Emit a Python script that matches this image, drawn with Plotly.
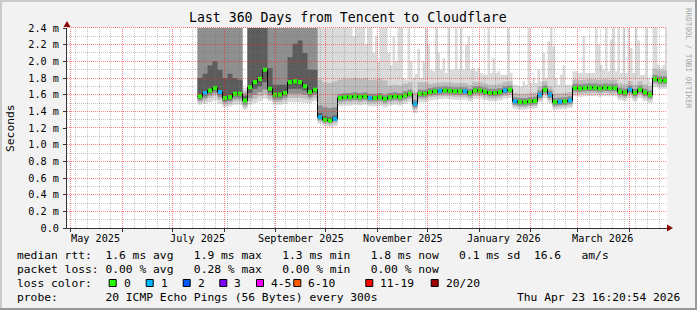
import math
import pandas as pd
import plotly.graph_objects as go

# ---------------- data ----------------
range_start = "2025-04-28 16:20:54"
range_end = "2026-04-23 16:20:54"
series_start = "2025-07-16"
step_days = 3          # step of the median / inner smoke series
fine_step_hours = 36   # step of the outer (max ping) smoke series

# median RTT (ms), one value per 3-day step
median_ms = [
    1.58, 1.62, 1.65, 1.68, 1.63, 1.56, 1.57, 1.61, 1.61, 1.53,
    1.69, 1.75, 1.79, 1.90, 1.67, 1.60, 1.60, 1.62, 1.75, 1.76,
    1.75, 1.70, 1.63, 1.66, 1.33, 1.30, 1.29, 1.31, 1.56, 1.57,
    1.57, 1.58, 1.57, 1.58, 1.56, 1.56, 1.57, 1.55, 1.57, 1.58,
    1.57, 1.59, 1.61, 1.49, 1.61, 1.61, 1.63, 1.64, 1.645, 1.65,
    1.645, 1.64, 1.64, 1.64, 1.62, 1.65, 1.65, 1.635, 1.62, 1.62,
    1.63, 1.65, 1.66, 1.52, 1.51, 1.51, 1.52, 1.525, 1.60, 1.66,
    1.60, 1.51, 1.515, 1.52, 1.53, 1.68, 1.675, 1.68, 1.685, 1.685,
    1.675, 1.685, 1.68, 1.68, 1.635, 1.625, 1.66, 1.62, 1.66, 1.625,
    1.60, 1.79, 1.77, 1.77,
]

# lost pings out of 20 for each step
loss_count = [
    0, 1, 0, 0, 1, 0, 0, 0, 0, 0,
    0, 0, 0, 0, 0, 0, 0, 0, 0, 0,
    0, 0, 0, 0, 1, 0, 0, 1, 0, 0,
    0, 0, 0, 0, 1, 0, 0, 0, 0, 0,
    0, 0, 0, 1, 0, 0, 0, 0, 1, 0,
    0, 0, 0, 1, 0, 0, 0, 0, 0, 0,
    0, 1, 0, 1, 0, 0, 0, 0, 1, 0,
    1, 0, 1, 0, 1, 0, 0, 0, 0, 0,
    0, 0, 0, 0, 0, 0, 1, 0, 0, 0,
    0, 0, 0, 0,
]

# smoke: spread of the sorted pings below / above the median (ms)
smoke_min_below = [
    0.10, 0.13, 0.14, 0.15, 0.14, 0.11, 0.11, 0.13, 0.13, 0.11,
    0.21, 0.25, 0.27, 0.35, 0.15, 0.12, 0.12, 0.13, 0.24, 0.25,
    0.24, 0.20, 0.13, 0.14, 0.08, 0.08, 0.08, 0.09, 0.10, 0.10,
    0.10, 0.10, 0.10, 0.10, 0.10, 0.10, 0.10, 0.10, 0.10, 0.10,
    0.10, 0.10, 0.10, 0.11, 0.10, 0.10, 0.10, 0.10, 0.10, 0.10,
    0.10, 0.10, 0.10, 0.10, 0.10, 0.10, 0.10, 0.10, 0.10, 0.10,
    0.10, 0.10, 0.10, 0.09, 0.09, 0.09, 0.09, 0.09, 0.09, 0.10,
    0.10, 0.09, 0.09, 0.09, 0.09, 0.10, 0.10, 0.10, 0.10, 0.10,
    0.10, 0.10, 0.10, 0.10, 0.10, 0.10, 0.10, 0.10, 0.10, 0.10,
    0.10, 0.10, 0.10, 0.10,
]
smoke_p10_below = [
    0.07, 0.09, 0.09, 0.09, 0.09, 0.08, 0.08, 0.09, 0.09, 0.08,
    0.17, 0.20, 0.21, 0.30, 0.12, 0.09, 0.09, 0.09, 0.19, 0.20,
    0.19, 0.15, 0.09, 0.10, 0.05, 0.05, 0.05, 0.05, 0.065, 0.065,
    0.065, 0.065, 0.065, 0.065, 0.065, 0.065, 0.065, 0.065, 0.065, 0.065,
    0.065, 0.065, 0.065, 0.065, 0.065, 0.065, 0.065, 0.065, 0.065, 0.065,
    0.065, 0.065, 0.065, 0.065, 0.065, 0.065, 0.065, 0.065, 0.065, 0.065,
    0.065, 0.065, 0.065, 0.06, 0.06, 0.06, 0.06, 0.06, 0.065, 0.065,
    0.065, 0.06, 0.06, 0.06, 0.06, 0.065, 0.065, 0.065, 0.065, 0.065,
    0.065, 0.065, 0.065, 0.065, 0.065, 0.065, 0.065, 0.065, 0.065, 0.065,
    0.065, 0.065, 0.065, 0.065,
]
smoke_p25_below = [
    0.05, 0.06, 0.06, 0.06, 0.06, 0.05, 0.05, 0.06, 0.06, 0.05,
    0.13, 0.15, 0.16, 0.24, 0.08, 0.06, 0.06, 0.06, 0.14, 0.15,
    0.14, 0.10, 0.06, 0.06, 0.03, 0.03, 0.03, 0.03, 0.04, 0.04,
    0.04, 0.04, 0.04, 0.04, 0.04, 0.04, 0.04, 0.04, 0.04, 0.04,
    0.04, 0.04, 0.04, 0.04, 0.04, 0.04, 0.04, 0.04, 0.04, 0.04,
    0.04, 0.04, 0.04, 0.04, 0.04, 0.04, 0.04, 0.04, 0.04, 0.04,
    0.04, 0.04, 0.04, 0.04, 0.04, 0.04, 0.04, 0.04, 0.04, 0.04,
    0.04, 0.04, 0.04, 0.04, 0.04, 0.04, 0.04, 0.04, 0.04, 0.04,
    0.04, 0.04, 0.04, 0.04, 0.04, 0.04, 0.04, 0.04, 0.04, 0.04,
    0.04, 0.04, 0.04, 0.04,
]
smoke_p40_below = [
    0.03, 0.03, 0.03, 0.03, 0.03, 0.03, 0.03, 0.03, 0.03, 0.02,
    0.07, 0.08, 0.09, 0.15, 0.04, 0.03, 0.03, 0.03, 0.08, 0.09,
    0.08, 0.05, 0.03, 0.03, 0.015, 0.015, 0.015, 0.015, 0.02, 0.02,
    0.02, 0.02, 0.02, 0.02, 0.02, 0.02, 0.02, 0.02, 0.02, 0.02,
    0.02, 0.02, 0.02, 0.02, 0.02, 0.02, 0.02, 0.02, 0.02, 0.02,
    0.02, 0.02, 0.02, 0.02, 0.02, 0.02, 0.02, 0.02, 0.02, 0.02,
    0.02, 0.02, 0.02, 0.02, 0.02, 0.02, 0.02, 0.02, 0.02, 0.02,
    0.02, 0.02, 0.02, 0.02, 0.02, 0.02, 0.02, 0.02, 0.02, 0.02,
    0.02, 0.02, 0.02, 0.02, 0.02, 0.02, 0.02, 0.02, 0.02, 0.02,
    0.02, 0.02, 0.02, 0.02,
]
smoke_p60_above = [
    0.22, 0.23, 0.30, 0.32, 0.27, 0.24, 0.28, 0.19, 0.17, 0.05,
    0.90, 0.90, 0.90, 0.90, 0.25, 0.12, 0.12, 0.10, 0.30, 0.45,
    0.50, 0.40, 0.27, 0.24, 0.05, 0.04, 0.04, 0.04, 0.02, 0.02,
    0.02, 0.02, 0.02, 0.02, 0.02, 0.02, 0.02, 0.02, 0.02, 0.02,
    0.02, 0.02, 0.02, 0.02, 0.02, 0.02, 0.02, 0.02, 0.02, 0.02,
    0.02, 0.02, 0.02, 0.02, 0.02, 0.02, 0.02, 0.02, 0.02, 0.02,
    0.02, 0.02, 0.02, 0.02, 0.02, 0.02, 0.02, 0.02, 0.02, 0.02,
    0.02, 0.02, 0.02, 0.02, 0.02, 0.02, 0.02, 0.02, 0.02, 0.02,
    0.02, 0.02, 0.02, 0.02, 0.02, 0.02, 0.02, 0.02, 0.02, 0.02,
    0.02, 0.02, 0.02, 0.02,
]
smoke_p75_above = [
    0.90, 0.90, 0.90, 0.90, 0.90, 0.90, 0.90, 0.90, 0.90, 0.08,
    0.90, 0.90, 0.90, 0.90, 0.90, 0.90, 0.90, 0.90, 0.90, 0.90,
    0.90, 0.90, 0.90, 0.90, 0.14, 0.15, 0.15, 0.14, 0.05, 0.05,
    0.05, 0.05, 0.05, 0.05, 0.05, 0.05, 0.05, 0.05, 0.05, 0.05,
    0.05, 0.05, 0.05, 0.05, 0.05, 0.05, 0.05, 0.05, 0.05, 0.05,
    0.05, 0.05, 0.05, 0.05, 0.05, 0.05, 0.05, 0.05, 0.05, 0.05,
    0.05, 0.05, 0.05, 0.05, 0.05, 0.05, 0.05, 0.05, 0.05, 0.05,
    0.05, 0.05, 0.05, 0.05, 0.05, 0.05, 0.05, 0.05, 0.05, 0.05,
    0.05, 0.05, 0.05, 0.05, 0.05, 0.05, 0.05, 0.05, 0.05, 0.05,
    0.05, 0.05, 0.05, 0.05,
]
smoke_p90_above = [
    0.90, 0.90, 0.90, 0.90, 0.90, 0.90, 0.90, 0.90, 0.90, 0.11,
    0.90, 0.90, 0.90, 0.90, 0.90, 0.90, 0.90, 0.90, 0.90, 0.90,
    0.90, 0.90, 0.90, 0.90, 0.45, 0.45, 0.45, 0.45, 0.22, 0.22,
    0.22, 0.22, 0.22, 0.22, 0.22, 0.22, 0.22, 0.22, 0.14, 0.14,
    0.14, 0.14, 0.14, 0.14, 0.14, 0.14, 0.10, 0.10, 0.10, 0.10,
    0.10, 0.10, 0.10, 0.10, 0.10, 0.10, 0.10, 0.10, 0.10, 0.10,
    0.10, 0.10, 0.10, 0.10, 0.10, 0.10, 0.10, 0.10, 0.10, 0.10,
    0.10, 0.10, 0.10, 0.10, 0.10, 0.10, 0.10, 0.10, 0.10, 0.10,
    0.10, 0.10, 0.10, 0.10, 0.10, 0.10, 0.10, 0.10, 0.10, 0.10,
    0.10, 0.12, 0.12, 0.12,
]
# highest ping (ms, absolute), one value per 36-hour step
smoke_max_ms = [
    2.5, 2.5, 2.5, 2.5, 2.5, 2.5, 2.5, 2.5, 2.5, 2.5,
    2.5, 2.5, 2.5, 2.5, 2.5, 2.5, 2.5, 2.5, 1.68, 1.68,
    2.5, 2.5, 2.5, 2.5, 2.5, 2.5, 2.5, 2.5, 2.5, 2.5,
    2.5, 2.5, 2.5, 2.5, 2.5, 2.5, 2.5, 2.5, 2.5, 2.5,
    2.5, 2.5, 2.5, 2.5, 2.5, 2.5, 2.5, 2.5, 2.5, 2.5,
    2.5, 2.5, 2.5, 2.5, 2.5, 2.5, 2.5, 2.5, 2.5, 2.4,
    2.5, 2.5, 2.3, 2.5, 2.5, 2.5, 2.5, 2.2, 2.5, 2.5,
    2.1, 2.3, 2.0, 2.4, 2.5, 2.5, 2.1, 1.95, 2.3, 2.0,
    2.4, 2.5, 1.8, 1.78, 2.5, 2.0, 1.8, 1.85, 2.15, 1.8,
    2.0, 2.5, 2.2, 1.9, 1.88, 2.4, 2.1, 1.9, 2.04, 1.86,
    2.5, 1.9, 1.9, 2.5, 1.9, 2.4, 1.9, 2.2, 2.3, 1.9,
    1.92, 1.88, 1.92, 1.86, 1.84, 1.84, 2.4, 1.86, 2.04, 1.86,
    1.88, 1.84, 1.84, 1.84, 2.5, 1.86, 1.72, 1.72, 1.7, 1.7,
    1.76, 1.72, 2.5, 1.74, 1.8, 1.74, 1.9, 1.76, 2.1, 1.8,
    2.24, 2.4, 2.18, 1.8, 1.72, 1.84, 1.95, 1.72, 1.72, 1.72,
    1.88, 1.88, 1.86, 1.86, 2.3, 1.86, 1.86, 1.86, 1.86, 2.5,
    2.2, 1.96, 1.9, 2.5, 1.88, 2.26, 2.5, 1.88, 2.5, 1.86,
    2.5, 1.86, 2.5, 2.16, 1.86, 2.4, 2.25, 1.84, 1.84, 2.5,
    1.8, 1.75, 2.5, 2.5, 1.96, 1.92, 1.96, 2.5,
]

ytick_vals = [0.0, 0.2, 0.4, 0.6, 0.8, 1.0, 1.2, 1.4, 1.6, 1.8, 2.0, 2.2, 2.4]
ytick_text = ["0.0", "0.2 m", "0.4 m", "0.6 m", "0.8 m", "1.0 m", "1.2 m",
              "1.4 m", "1.6 m", "1.8 m", "2.0 m", "2.2 m", "2.4 m"]
xlabel_dates = ["2025-05-16", "2025-07-16", "2025-09-16",
                "2025-11-16", "2026-01-16", "2026-03-16"]
xlabel_text = ["May 2025", "July 2025", "September 2025",
               "November 2025", "January 2026", "March 2026"]

loss_legend_labels = ["0", "1", "2", "3", "4-5", "6-10", "11-19", "20/20"]
loss_legend_colors = ["#26ff00", "#00b8ff", "#0059ff", "#7e00ff",
                      "#f000ff", "#ff5a00", "#ff0000", "#a10000"]

title_text = "Last 360 Days from Tencent to Cloudflare"
stat_lines = [
    "median rtt:  1.6 ms avg   1.9 ms max   1.3 ms min   1.8 ms now   0.1 ms sd  16.6   am/s",
    "packet loss: 0.00 % avg   0.28 % max   0.00 % min   0.00 % now",
    "loss color:",
    "probe:       20 ICMP Echo Pings (56 Bytes) every 300s",
]
stamp_text = "Thu Apr 23 16:20:54 2026"

# ---------------- geometry / style ----------------
W, H = 697, 310
L, T, PW, PH = 67, 28, 600, 200
MONO = "DejaVu Sans Mono"
Y_MAX = 2.4


def px(x):
    return (x - L) / PW


def py(y):
    return (T + PH - y) / PH


n = len(median_ms)
t = pd.date_range(series_start, periods=n, freq=f"{step_days}D")
t_edges = list(t) + [t[-1] + pd.Timedelta(days=step_days)]
t_mid = [v + pd.Timedelta(hours=12 * step_days) for v in t]
tf = pd.date_range(series_start, periods=len(smoke_max_ms), freq=f"{fine_step_hours}h")
tf_edges = list(tf) + [tf[-1] + pd.Timedelta(hours=fine_step_hours)]


def ext(v):
    return list(v) + [v[-1]]


def below(off):
    return [m - o for m, o in zip(median_ms, off)]


def above(off):
    return [m + o for m, o in zip(median_ms, off)]


bands = [
    (below(smoke_min_below), (tf_edges, ext(smoke_max_ms)), "#dadada"),
    (below(smoke_p10_below), (t_edges, ext(above(smoke_p90_above))), "#bcbcbc"),
    (below(smoke_p25_below), (t_edges, ext(above(smoke_p75_above))), "#8f8f8f"),
    (below(smoke_p40_below), (t_edges, ext(above(smoke_p60_above))), "#5c5c5c"),
]

fig = go.Figure()
for lo, (hx, hy), col in bands:
    fig.add_trace(go.Scatter(x=t_edges, y=ext(lo), mode="lines",
                             line=dict(width=0, shape="hv"),
                             hoverinfo="skip", showlegend=False))
    fig.add_trace(go.Scatter(x=hx, y=hy, mode="lines",
                             line=dict(width=0, shape="hv"),
                             fill="tonexty", fillcolor=col,
                             hoverinfo="skip", showlegend=False))

fig.add_trace(go.Scatter(x=t_edges, y=ext(median_ms), mode="lines",
                         line=dict(color="#000000", width=1, shape="hv"),
                         showlegend=False))
fig.add_trace(go.Scatter(x=t_mid, y=median_ms, mode="markers",
                         marker=dict(symbol="square", size=4,
                                     color=[loss_legend_colors[c] for c in loss_count],
                                     line=dict(width=0)),
                         showlegend=False))

fig.update_layout(
    width=W, height=H,
    margin=dict(l=L, r=W - L - PW, t=T, b=H - T - PH, pad=0),
    paper_bgcolor="#f2f2f2", plot_bgcolor="#ffffff",
    showlegend=False,
    xaxis=dict(
        type="date", range=[range_start, range_end],
        dtick="M1", tick0="2025-05-01", showticklabels=False,
        ticks="outside", ticklen=3, tickcolor="#333333",
        showgrid=False,
        showline=True, linecolor="#333333", linewidth=1,
        zeroline=False, layer="above traces", fixedrange=True,
    ),
    yaxis=dict(
        range=[0, Y_MAX], tickmode="array", tickvals=ytick_vals, ticktext=ytick_text,
        ticks="outside", ticklen=3, tickcolor="#333333",
        tickfont=dict(family=MONO, size=10.2, color="#000000"),
        ticklabelstandoff=2,
        showgrid=False,
        showline=True, linecolor="#333333", linewidth=1,
        zeroline=False, layer="above traces", fixedrange=True,
    ),
)

shapes = []

# ---- rrdtool style grid, drawn on top of the smoke (crisp, dotted) ----
t0 = pd.Timestamp(range_start)
t1 = pd.Timestamp(range_end)


def date_px(d):
    return L + (pd.Timestamp(d) - t0) / (t1 - t0) * PW


def val_py(v):
    return T + PH - v / Y_MAX * PH


minor_col = "rgba(120,120,120,0.42)"
major_col = "rgba(255,30,30,0.55)"


def vline(xpix, col):
    xs = math.floor(xpix) + 0.5
    shapes.append(dict(type="line", xref="paper", yref="paper", layer="above",
                       x0=px(xs), x1=px(xs), y0=0, y1=1,
                       line=dict(color=col, width=1, dash="1px,1px")))


def hline(ypix, col):
    ys = math.floor(ypix) + 0.5
    shapes.append(dict(type="line", xref="paper", yref="paper", layer="above",
                       x0=0, x1=1, y0=py(ys), y1=py(ys),
                       line=dict(color=col, width=1, dash="1px,1px")))


month_starts = pd.date_range("2025-05-01", range_end, freq="MS")
weeks = pd.date_range("2025-05-04", range_end, freq="7D")
month_set = set(month_starts)
for w in weeks:
    if w not in month_set:
        vline(date_px(w), minor_col)
for m in month_starts:
    vline(date_px(m), major_col)

for i in range(1, 25):
    v = i * 0.1
    hline(val_py(v), major_col if i % 2 == 0 else minor_col)

ann = []


def text(xp, yp, s, size, anchor="left", color="#000000", angle=0):
    ann.append(dict(xref="paper", yref="paper", x=px(xp), y=py(yp),
                    text=s.replace(" ", "\u00a0"), showarrow=False,
                    xanchor=anchor, yanchor="middle", borderpad=0,
                    textangle=angle,
                    font=dict(family=MONO, size=size, color=color)))


# x tick labels (month labels placed mid-month like rrdtool)
for d, s in zip(xlabel_dates, xlabel_text):
    ann.append(dict(xref="x", yref="paper", x=d, y=py(238), text=s.replace(" ", "\u00a0"),
                    showarrow=False, xanchor="center", yanchor="middle",
                    font=dict(family=MONO, size=10.2, color="#000000")))

text(347.5, 18, title_text, 13.2, anchor="center")
text(10, 128, "Seconds", 11.3, anchor="center", angle=-90)
text(689, 58, "RRDTOOL / TOBI OETIKER", 7.6, anchor="center", color="#a8a8a8", angle=90)

line_y = [255.5, 269, 283, 297]
for s, yv in zip(stat_lines, line_y):
    text(16, yv, s, 11.3)
text(681, line_y[3], stamp_text, 11.3, anchor="right")

box_x = [108.7, 145.7, 182.7, 219.3, 256, 293.3, 365.3, 430.7]
for bx, lab, col in zip(box_x, loss_legend_labels, loss_legend_colors):
    shapes.append(dict(type="rect", xref="paper", yref="paper",
                       x0=px(bx + 0.5), x1=px(bx + 7.5),
                       y0=py(line_y[2] + 3.5), y1=py(line_y[2] - 3.5),
                       line=dict(color="#000000", width=1), fillcolor=col))
    text(bx + 14, line_y[2], lab, 11.3)

# axis arrows
arrow_col = "#8b0a0a"
shapes.append(dict(type="path", xref="paper", yref="paper",
                   path=f"M {px(667)} {py(224.5)} L {px(673)} {py(228)} L {px(667)} {py(231.5)} Z",
                   fillcolor=arrow_col, line=dict(width=0)))
shapes.append(dict(type="path", xref="paper", yref="paper",
                   path=f"M {px(63.5)} {py(27)} L {px(67)} {py(21)} L {px(70.5)} {py(27)} Z",
                   fillcolor=arrow_col, line=dict(width=0)))

# rrdtool bevelled border
for x0, y0, x1, y1, col in [
    (0, 0, W, 2, "#cbcbcb"), (0, 0, 2, H, "#cbcbcb"),
    (0, H - 2, W, H, "#999999"), (W - 2, 0, W, H, "#999999"),
]:
    shapes.append(dict(type="rect", xref="paper", yref="paper",
                       x0=px(x0), x1=px(x1), y0=py(y1), y1=py(y0),
                       fillcolor=col, line=dict(width=0)))

fig.update_layout(annotations=ann, shapes=shapes)
fig.write_html("out.html")
